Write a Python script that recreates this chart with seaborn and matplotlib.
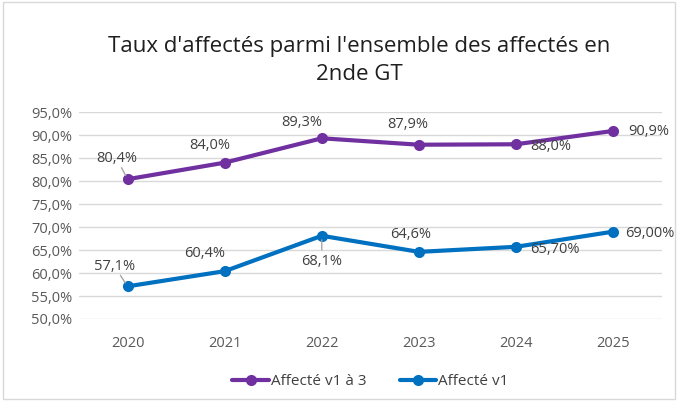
import numpy as np
import pandas as pd
import seaborn as sns
import matplotlib.pyplot as plt
from matplotlib.patches import Rectangle

# data
years = ["2020", "2021", "2022", "2023", "2024", "2025"]
affecte_v1_3 = [80.4, 84.0, 89.3, 87.9, 88.0, 90.9]
affecte_v1 = [57.1, 60.4, 68.1, 64.6, 65.7, 69.0]
labels_v1_3 = ["80,4%", "84,0%", "89,3%", "87,9%", "88,0%", "90,9%"]
labels_v1 = ["57,1%", "60,4%", "68,1%", "64,6%", "65,70%", "69,00%"]
series_names = ["Affecté v1 à 3", "Affecté v1"]

df = pd.DataFrame({
    "Année": years * 2,
    "Taux": affecte_v1_3 + affecte_v1,
    "Série": [series_names[0]] * 6 + [series_names[1]] * 6,
})

sns.set_theme(style="white")
plt.rcParams['font.family'] = ['Open Sans', 'DejaVu Sans']

fig = plt.figure(figsize=(6.78, 4.01), dpi=100)
ax = fig.add_axes([0.1165, 0.2045, 0.8595, 0.516])

palette = {series_names[0]: "#7030A0", series_names[1]: "#0070C0"}
sns.lineplot(data=df, x="Année", y="Taux", hue="Série", palette=palette,
             marker="o", markersize=8, markeredgewidth=0, linewidth=3,
             ax=ax, sort=False)

ax.set_ylim(50, 95)
ax.set_xlim(-0.5, 5.5)
ax.set_yticks(np.arange(50, 96, 5))
ax.set_yticklabels([f"{v:.1f}%".replace(".", ",") for v in np.arange(50, 96, 5)])
ax.yaxis.grid(True, color="#D9D9D9", linewidth=1)
ax.set_axisbelow(True)
for s in ax.spines.values():
    s.set_visible(False)
ax.tick_params(axis="both", length=0, labelsize=10.5, colors="#595959", pad=5)
ax.tick_params(axis="x", pad=12)
ax.set_xlabel("")
ax.set_ylabel("")

# data labels: (dx, dy, ha, leader line)
pos_v1_3 = [(-11, 21, "center", True), (-15, 17, "center", False),
            (-20, 16, "center", False), (-11, 20, "center", False),
            (14, -2, "left", False), (15, -1, "left", False)]
pos_v1 = [(-13, 20, "center", True), (-20, 18, "center", False),
          (0, -26, "center", True), (-8, 17, "center", False),
          (14, -3, "left", False), (12, -2, "left", False)]

for vals, labs, pos in [(affecte_v1_3, labels_v1_3, pos_v1_3),
                        (affecte_v1, labels_v1, pos_v1)]:
    for i, (v, t, (dx, dy, ha, lead)) in enumerate(zip(vals, labs, pos)):
        ax.annotate(t, (i, v), xytext=(dx, dy), textcoords="offset pixels",
                    ha=ha, va="center", fontsize=10.5, color="#404040")
        if lead:
            ax.annotate("", (i, v), xytext=(dx * 0.55, dy * 0.55) if dx else (0, dy * 0.55),
                        textcoords="offset pixels",
                        arrowprops=dict(arrowstyle="-", color="#A6A6A6", lw=1,
                                        shrinkA=0, shrinkB=3))

fig.suptitle("Taux d'affectés parmi l'ensemble des affectés en\n2nde GT",
             x=0.53, y=0.91, fontsize=16, color="#1F1F1F", linespacing=1.45)

ax.legend(loc="upper center", bbox_to_anchor=(0.5, -0.2), ncol=2, frameon=False,
          fontsize=11, handlelength=2.4, handletextpad=0.1, columnspacing=2.2,
          labelcolor="#404040")

fig.patches.append(Rectangle((0.004, 0.004), 0.992, 0.992, transform=fig.transFigure,
                             fill=False, edgecolor="#D9D9D9", linewidth=1))

fig.savefig("out.png", dpi=100)
